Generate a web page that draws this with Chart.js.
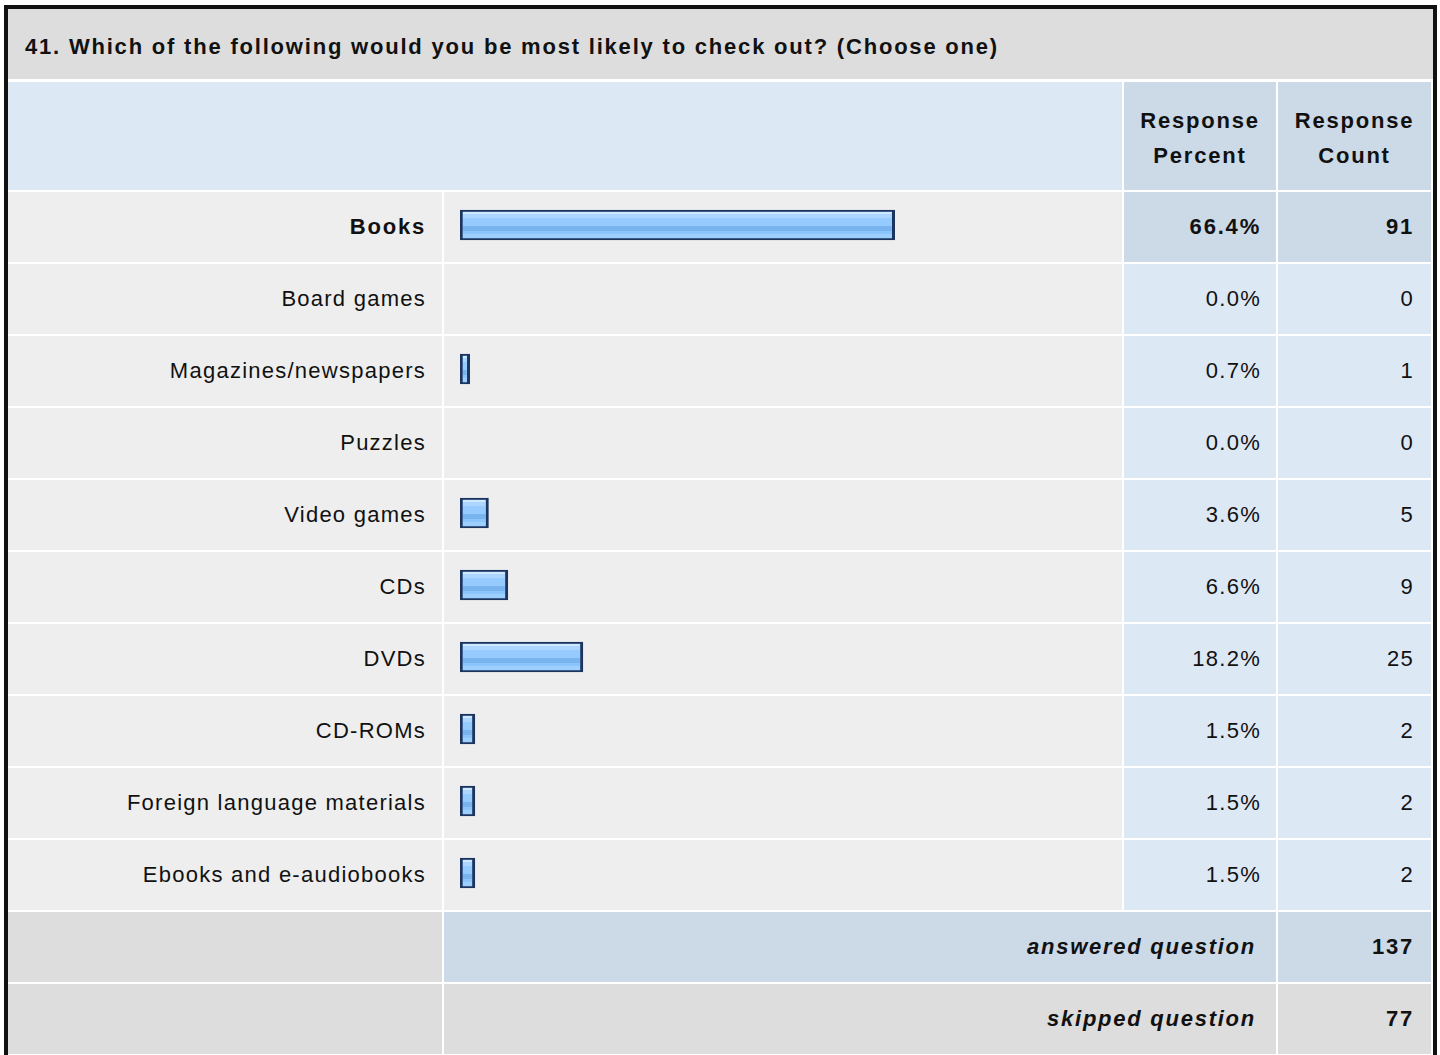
<!DOCTYPE html>
<html>
<head>
<meta charset="utf-8">
<script src="https://cdn.jsdelivr.net/npm/chart.js@4.4.1/dist/chart.umd.min.js"></script>
<style>
html,body{margin:0;padding:0;background:#fff;width:1440px;height:1055px;overflow:hidden;}
body{font-family:"Liberation Sans",Arial,sans-serif;color:#111;position:relative;}
#frame{position:absolute;left:4px;top:5px;width:1425px;height:1100px;border:4px solid #111;border-bottom:none;background:#fff;}
.cell{position:absolute;box-sizing:border-box;font-size:22px;letter-spacing:1.25px;display:flex;align-items:center;white-space:nowrap;}
.right{justify-content:flex-end;}
.center{justify-content:center;text-align:center;}
.b{font-weight:bold;letter-spacing:1.8px;}
.bi{font-weight:bold;font-style:italic;letter-spacing:1.75px;}
#chartBox{position:absolute;left:444px;top:189px;width:678px;height:720px;}
</style>
</head>
<body>
<div id="frame"></div>
<div id="cells"></div>
<div id="chartBox"><canvas id="c" width="678" height="720"></canvas></div>
<script>
// ---- data ----
const questionTitle = "41. Which of the following would you be most likely to check out? (Choose one)";
const headerLabels = ["Response Percent", "Response Count"];
const categories = ["Books","Board games","Magazines/newspapers","Puzzles","Video games","CDs","DVDs","CD-ROMs","Foreign language materials","Ebooks and e-audiobooks"];
const percents = [66.4, 0.0, 0.7, 0.0, 3.6, 6.6, 18.2, 1.5, 1.5, 1.5];
const counts = [91, 0, 1, 0, 5, 9, 25, 2, 2, 2];
const highlighted = ["Books"];
const summaryLabels = ["answered question", "skipped question"];
const summaryCounts = [137, 77];

// ---- layout (styles only) ----
const COL = {L:[8,434], B:[444,678], P:[1124,152], C:[1278,153]};
const GRAY_T = '#dddddd', GRAY = '#eeeeee', BLUE_L = '#dde8f5', BLUE_D = '#ccd9e6';
const host = document.getElementById('cells');
function cell(x,y,w,h,bg,text,cls,pad){
  const d=document.createElement('div');
  d.className='cell '+(cls||'');
  d.style.left=x+'px';d.style.top=y+'px';d.style.width=w+'px';d.style.height=h+'px';
  d.style.background=bg;
  if(pad) d.style.padding=pad;
  if(text!==undefined) d.innerHTML=text;
  host.appendChild(d);
  return d;
}
// title
const t = cell(8,9,1425,70,GRAY_T,questionTitle,'b','6px 0 0 17px');
t.style.fontSize='22px'; t.style.letterSpacing='1.8px';
// header row
cell(8,82,1114,108,BLUE_L);
headerLabels.forEach((h,i)=>{
  const c = i===0?COL.P:COL.C;
  const parts=h.split(' ');
  const d=cell(c[0],82,c[1],108,BLUE_D,parts.join('<br>'),'b center','4px 0 0 0');
  d.style.lineHeight='35px';
});
// data rows
categories.forEach((cat,i)=>{
  const y=192+72*i, h=70;
  const hl = highlighted.includes(cat);
  cell(COL.L[0],y,COL.L[1],h,GRAY,cat,'right'+(hl?' b':''),'0 16px 0 0');
  cell(COL.B[0],y,COL.B[1],h,GRAY);
  cell(COL.P[0],y,COL.P[1],h,hl?BLUE_D:BLUE_L,percents[i].toFixed(1)+'%','right'+(hl?' b':''),'0 15px 0 0');
  cell(COL.C[0],y,COL.C[1],h,hl?BLUE_D:BLUE_L,String(counts[i]),'right'+(hl?' b':''),'0 17px 0 0');
});
// summary rows
summaryLabels.forEach((lab,i)=>{
  const y=912+72*i, h=70;
  const bg = i===0?BLUE_D:GRAY_T;
  cell(COL.L[0],y,COL.L[1],h,GRAY_T);
  cell(COL.B[0],y,COL.P[0]+COL.P[1]-COL.B[0],h,bg,lab,'right bi','0 20px 0 0');
  cell(COL.C[0],y,COL.C[1],h,bg,String(summaryCounts[i]),'right b','0 17px 0 0');
});

// ---- chart ----
const stripeBands = [['#cfe7ff',2],['#acd6ff',4],['#96cbff',8],['#79b4ef',5],['#8cc5fb',3],['#9dcfff',4]];
const stripePlugin = {
  id:'stripes',
  afterDatasetsDraw(chart){
    const ctx=chart.ctx;
    const meta=chart.getDatasetMeta(0);
    meta.data.forEach((el,i)=>{
      const v=chart.data.datasets[0].data[i];
      if(!(v>0)) return;
      const p=el.getProps(['x','y','base','height'],true);
      const l=Math.min(p.x,p.base)+3, r=Math.max(p.x,p.base)-3;
      const top=p.y-p.height/2+2, bot=p.y+p.height/2-2;
      const total=stripeBands.reduce((s,b)=>s+b[1],0);
      const g=ctx.createLinearGradient(0,top,0,bot);
      let acc=0;
      stripeBands.forEach(([col,hh])=>{
        g.addColorStop(acc/total,col);
        acc+=hh;
        g.addColorStop(Math.min(1,acc/total-0.0001),col);
      });
      ctx.save();
      ctx.fillStyle=g;
      ctx.fillRect(l,top,r-l,bot-top);
      ctx.restore();
    });
  }
};
new Chart(document.getElementById('c'),{
  type:'bar',
  data:{labels:categories,datasets:[{
    data:percents,
    base:-0.8,
    barThickness:30,
    backgroundColor:(c)=>c.raw>0?'#96cbff':'rgba(0,0,0,0)',
    borderColor:(c)=>c.raw>0?'#1c355e':'rgba(0,0,0,0)',
    borderWidth:(c)=>c.raw>0?{top:2,bottom:2,left:3,right:3}:0,
    borderSkipped:false
  }]},
  options:{
    indexAxis:'y',
    responsive:false,
    animation:false,
    devicePixelRatio:1,
    layout:{padding:{left:16,right:10,top:0,bottom:0}},
    scales:{
      x:{type:'linear',min:-0.8,max:100,display:false},
      y:{display:false}
    },
    plugins:{legend:{display:false},tooltip:{enabled:false}}
  },
  plugins:[stripePlugin]
});
</script>
</body>
</html>
